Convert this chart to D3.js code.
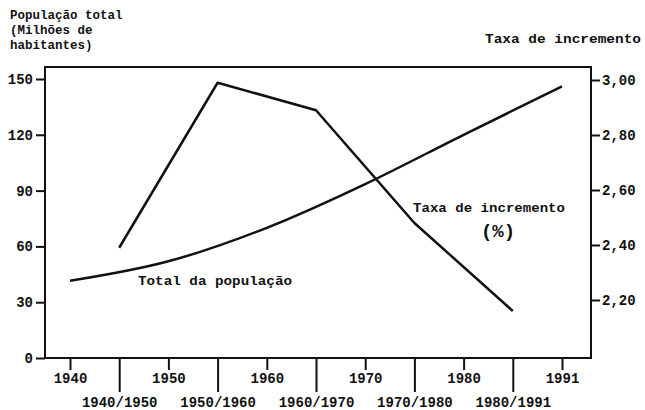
<!DOCTYPE html>
<html>
<head>
<meta charset="utf-8">
<script src="https://cdn.jsdelivr.net/npm/d3@7"></script>
<style>
  body { margin: 0; background: #fff; }
  svg text { font-family: "Liberation Mono", "DejaVu Sans Mono", monospace; font-weight: bold; fill: #111; }
</style>
</head>
<body>
<svg id="chart" width="645" height="410"></svg>
<script>
// data
const years = ["1940", "1950", "1960", "1970", "1980", "1991"];
const periods = ["1940/1950", "1950/1960", "1960/1970", "1970/1980", "1980/1991"];
const population = [41.5, 52, 70, 93.5, 120, 146];      // milhões de habitantes
const growthRate = [2.39, 2.99, 2.89, 2.48, 2.16];      // taxa de incremento (%)
const popTicks = [0, 30, 60, 90, 120, 150];
const rateTicks = [2.2, 2.4, 2.6, 2.8, 3.0];

const svg = d3.select("#chart");

// frame of the plot
const frameL = 45, frameR = 591, frameT = 67, frameB = 358;

// x positions alternate year / period
const slots = [];
years.forEach((y, i) => {
  slots.push(y);
  if (periods[i]) slots.push(periods[i]);
});

const x = d3.scalePoint().domain(slots).range([70, 562]);
const yPop = d3.scaleLinear().domain([0, 150]).range([frameB, 79]);
const yRate = d3.scaleLinear().domain([2.0, 3.0]).range([355, 80]);

svg.append("rect")
  .attr("x", frameL).attr("y", frameT)
  .attr("width", frameR - frameL).attr("height", frameB - frameT)
  .attr("fill", "none").attr("stroke", "#111").attr("stroke-width", 2);

// left axis
const gl = svg.append("g")
  .attr("transform", `translate(${frameL},0)`)
  .call(d3.axisLeft(yPop).tickValues(popTicks).tickSize(9).tickPadding(3).tickFormat(d3.format("d")));

// right axis
const gr = svg.append("g")
  .attr("transform", `translate(${frameR},0)`)
  .call(d3.axisRight(yRate).tickValues(rateTicks).tickSize(9).tickPadding(2)
    .tickFormat(d => d3.format(".2f")(d).replace(".", ",")));

// bottom: year ticks (short) and period ticks (long)
const gy = svg.append("g")
  .attr("transform", `translate(0,${frameB})`)
  .call(d3.axisBottom(x).tickValues(years).tickSize(12).tickPadding(3));

const gp = svg.append("g")
  .attr("transform", `translate(0,${frameB})`)
  .call(d3.axisBottom(x).tickValues(periods).tickSize(34).tickPadding(5));

[gl, gr, gy, gp].forEach(g => {
  g.select(".domain").remove();
  g.selectAll(".tick line").attr("stroke", "#111").attr("stroke-width", 2);
  g.selectAll("text").style("font-size", "14px").attr("fill", "#111");
});

// lines
const popLine = d3.line()
  .x((d, i) => x(years[i]))
  .y(d => yPop(d))
  .curve(d3.curveMonotoneX);

const rateLine = d3.line()
  .x((d, i) => x(periods[i]))
  .y(d => yRate(d));

svg.append("path")
  .datum(population)
  .attr("d", popLine)
  .attr("fill", "none").attr("stroke", "#111").attr("stroke-width", 2.5);

svg.append("path")
  .datum(growthRate)
  .attr("d", rateLine)
  .attr("fill", "none").attr("stroke", "#111").attr("stroke-width", 2.5)
  .attr("stroke-linejoin", "round");

// titles
const title = svg.append("text").style("font-size", "12.5px");
["População total", "(Milhões de", "habitantes)"].forEach((t, i) => {
  title.append("tspan").attr("x", 10).attr("y", 19 + i * 15).text(t);
});

svg.append("text")
  .attr("x", 485).attr("y", 43)
  .attr("textLength", 156).attr("lengthAdjust", "spacingAndGlyphs")
  .style("font-size", "12px")
  .text("Taxa de incremento");

// annotations
svg.append("text")
  .attr("x", 413).attr("y", 212)
  .attr("textLength", 152).attr("lengthAdjust", "spacingAndGlyphs")
  .style("font-size", "12px")
  .text("Taxa de incremento");

svg.append("text")
  .attr("x", 498).attr("y", 237)
  .attr("text-anchor", "middle")
  .style("font-size", "19px")
  .text("(%)");

svg.append("text")
  .attr("x", 138).attr("y", 285)
  .attr("textLength", 154).attr("lengthAdjust", "spacingAndGlyphs")
  .style("font-size", "12px")
  .text("Total da população");
</script>
</body>
</html>
